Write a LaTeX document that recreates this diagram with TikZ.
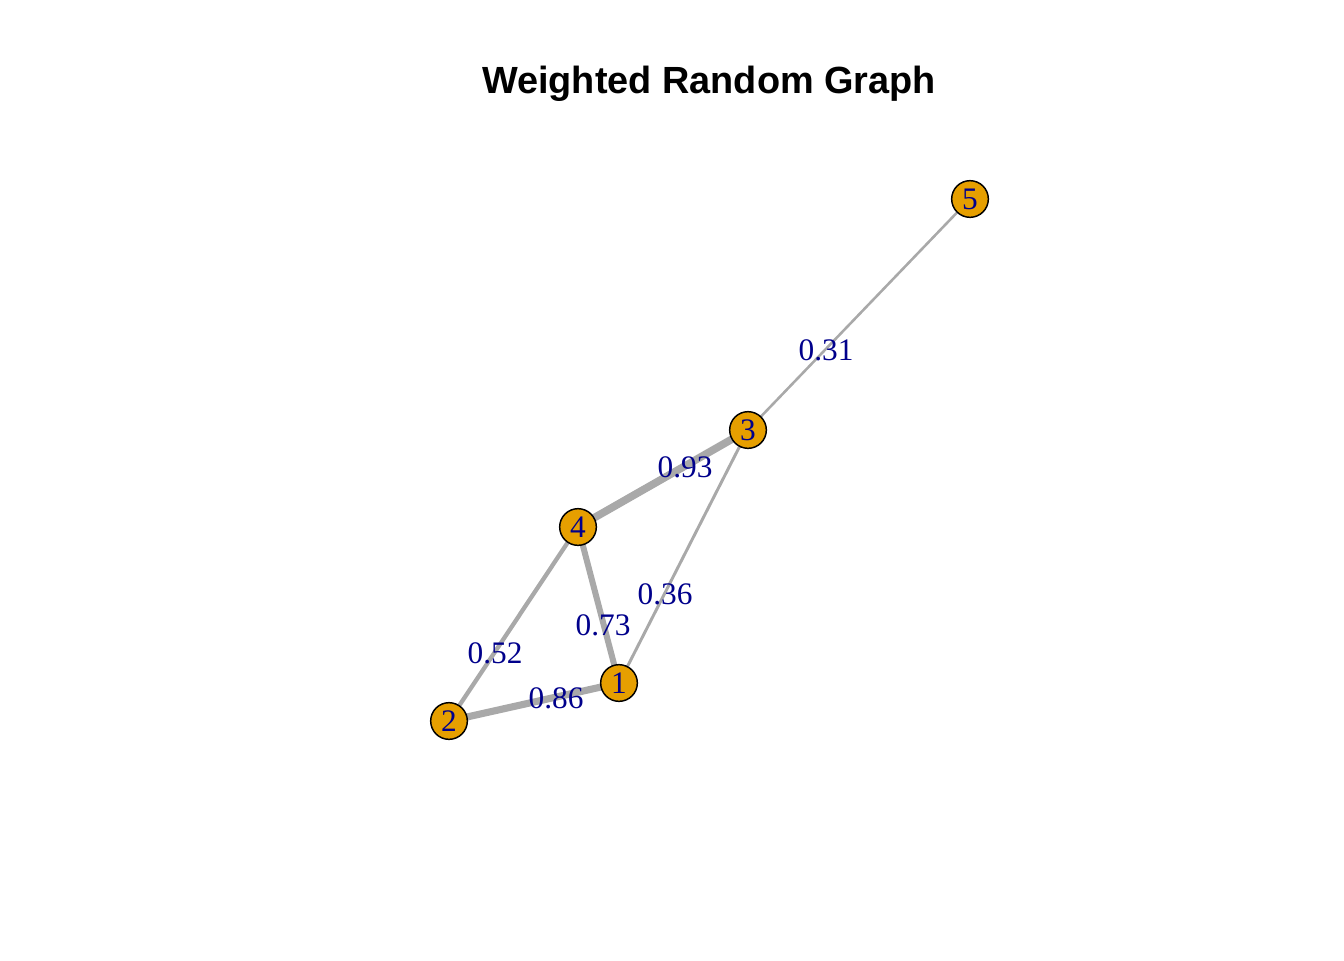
\documentclass[tikz,border=0pt]{standalone}
\usepackage{fontspec}
\setmainfont{Liberation Serif}
\newfontfamily\titlefont{Liberation Sans}
\definecolor{nodeorange}{HTML}{E69F00}
\definecolor{labblue}{RGB}{0,0,139}
\definecolor{edgegray}{HTML}{A9A9A9}
\tikzset{
  vtx/.style={circle, draw=black, line width=1.1pt, fill=nodeorange, minimum size=27.5pt, inner sep=0pt, text=labblue, font=\fontsize{23.5}{23.5}\selectfont},
  elab/.style={text=labblue, font=\fontsize{23.5}{23.5}\selectfont, inner sep=0pt},
  edg/.style={draw=edgegray, line width=#1*6.2pt},
}
\begin{document}
\begin{tikzpicture}[x=0.75pt,y=-0.75pt]
\useasboundingbox (0,0) rectangle (1344,960);
\node[font=\titlefont\bfseries\fontsize{28.4}{28.4}\selectfont] (title) at (709,84) {Weighted Random Graph};
\coordinate (p1) at (619,683);
\coordinate (p2) at (449,721);
\coordinate (p3) at (748,430);
\coordinate (p4) at (578,527);
\coordinate (p5) at (970,199);
\draw[edg=0.31] (p3) -- (p5);
\draw[edg=0.93] (p4) -- (p3);
\draw[edg=0.36] (p1) -- (p3);
\draw[edg=0.73] (p4) -- (p1);
\draw[edg=0.52] (p2) -- (p4);
\draw[edg=0.86] (p2) -- (p1);
\node[vtx] (n1) at (p1) {1};
\node[vtx] (n2) at (p2) {2};
\node[vtx] (n3) at (p3) {3};
\node[vtx] (n4) at (p4) {4};
\node[vtx] (n5) at (p5) {5};
\node[elab] (l35) at (826,350) {0.31};
\node[elab] (l43) at (685,467) {0.93};
\node[elab] (l13) at (665,594) {0.36};
\node[elab] (l41) at (603,625) {0.73};
\node[elab] (l24) at (495,653) {0.52};
\node[elab] (l21) at (556,698) {0.86};
\end{tikzpicture}
\end{document}
